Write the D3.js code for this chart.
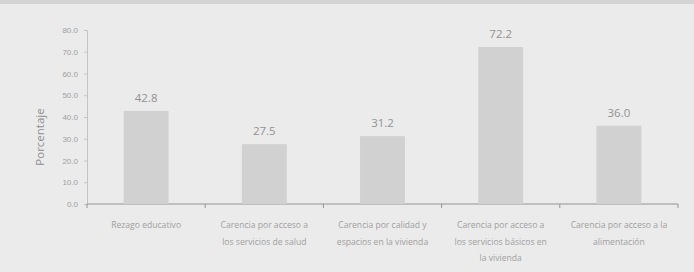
<!DOCTYPE html>
<html>
<head>
<meta charset="utf-8">
<script src="https://cdn.jsdelivr.net/npm/d3@7"></script>
<style>
  body { margin: 0; background: #ebebeb; }
  svg { display: block; font-family: "Open Sans", sans-serif; }
</style>
</head>
<body>
<script>
// datos
var categorias = [
    ["Rezago educativo"],
    ["Carencia por acceso a", "los servicios de salud"],
    ["Carencia por calidad y", "espacios en la vivienda"],
    ["Carencia por acceso a", "los servicios básicos en", "la vivienda"],
    ["Carencia por acceso a la", "alimentación"]
];
var valores = [42.8, 27.5, 31.2, 72.2, 36.0];
var yTicks = [0, 10, 20, 30, 40, 50, 60, 70, 80];

var width = 694, height = 272;
var margin = {top: 30, right: 16, bottom: 68, left: 87};

var svg = d3.select("body").append("svg")
    .attr("width", width)
    .attr("height", height);

// fondo y franja superior
svg.append("rect").attr("width", width).attr("height", height).attr("fill", "#ebebeb");
svg.append("rect").attr("width", width).attr("height", 4).attr("fill", "#d4d4d4");

var x = d3.scaleBand()
    .domain(d3.range(valores.length))
    .range([margin.left, width - margin.right])
    .paddingInner(0.62)
    .paddingOuter(0.31);

var y = d3.scaleLinear()
    .domain([0, 80])
    .range([height - margin.bottom, margin.top]);

var g = svg.append("g");

// eje y
var yAxis = g.append("g")
    .attr("transform", "translate(" + margin.left + ",0)")
    .call(d3.axisLeft(y).tickValues(yTicks).tickSize(3).tickFormat(d3.format(".1f")));
yAxis.selectAll("path,line").attr("stroke", "#c4c4c4");
yAxis.selectAll("text").attr("fill", "#a0a0a0").attr("font-size", 8).attr("dx", "-3");

// eje x con marcas entre categorias
var x0 = margin.left, x1 = width - margin.right;
g.append("line")
    .attr("x1", x0).attr("x2", x1)
    .attr("y1", y(0)).attr("y2", y(0))
    .attr("stroke", "#939393").attr("stroke-width", 1.2);
var limites = d3.range(valores.length + 1).map(function(i){
    return x0 + i * x.step() ;
});
g.selectAll(".tk").data(limites).enter().append("line")
    .attr("x1", function(d){return d;}).attr("x2", function(d){return d;})
    .attr("y1", y(0)).attr("y2", y(0) + 4)
    .attr("stroke", "#939393");

// barras
g.selectAll(".bar").data(valores).enter().append("rect")
    .attr("x", function(d, i){return x(i);})
    .attr("y", function(d){return y(d);})
    .attr("width", x.bandwidth())
    .attr("height", function(d){return y(0) - y(d);})
    .attr("fill", "#d1d1d1");

// etiquetas de valor
g.selectAll(".val").data(valores).enter().append("text")
    .attr("x", function(d, i){return x(i) + x.bandwidth() / 2;})
    .attr("y", function(d){return y(d) - 9;})
    .attr("text-anchor", "middle")
    .attr("font-size", 11.5)
    .attr("fill", "#929292")
    .text(function(d){return d.toFixed(1);});

// etiquetas de categoria
var cat = g.selectAll(".cat").data(categorias).enter().append("text")
    .attr("text-anchor", "middle")
    .attr("font-size", 8.6)
    .attr("fill", "#a0a0a0")
    .attr("transform", function(d, i){
        return "translate(" + (x(i) + x.bandwidth() / 2) + "," + (y(0) + 24) + ")";
    });
cat.selectAll("tspan").data(function(d){return d;}).enter().append("tspan")
    .attr("x", 0)
    .attr("y", function(d, j){return j * 16.5;})
    .text(function(d){return d;});

// titulo eje y
svg.append("text")
    .attr("transform", "translate(44," + ((margin.top + height - margin.bottom) / 2 + 20) + ") rotate(-90)")
    .attr("text-anchor", "middle")
    .attr("font-size", 11.5)
    .attr("fill", "#8f8f8f")
    .text("Porcentaje");
</script>
</body>
</html>
